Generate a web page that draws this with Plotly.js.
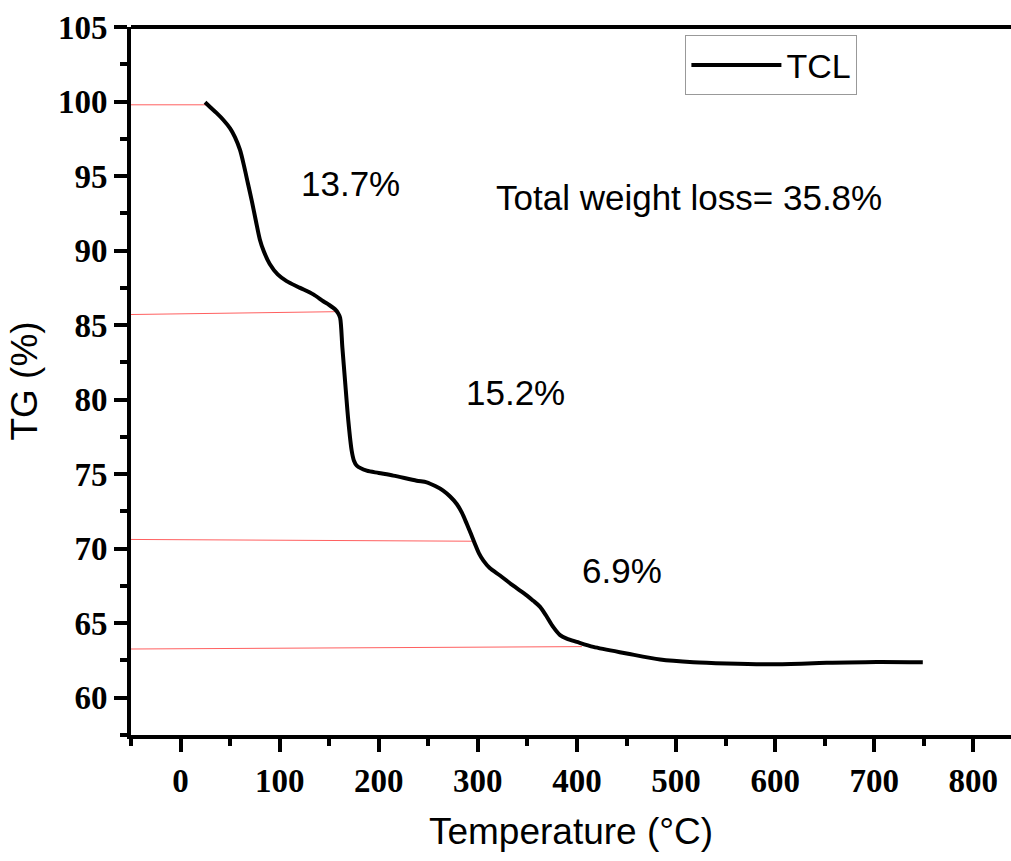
<!DOCTYPE html>
<html>
<head>
<meta charset="utf-8">
<script src="https://cdn.plot.ly/plotly-3.0.1.min.js"></script>
<style>html,body{margin:0;padding:0;background:#fff;}#chart{width:1011px;height:861px;}</style>
</head>
<body>
<div id="chart"></div>
<script>
// TG curve of TCL
const temperature = [24.7, 30, 36.5, 43, 50, 55, 60, 64, 68, 72, 76, 80, 84, 90, 98, 107, 120.6, 134, 144, 150, 155.9, 159, 161, 163.3, 166, 169.3, 172.7, 175, 177.8, 187.9, 200, 214.7, 238.3, 248.4, 257, 265, 272, 278.7, 284, 288.8, 293, 297, 301, 305.6, 312, 322.4, 335, 349.3, 356, 362.8, 369, 376, 383, 389.7, 399.8, 416.6, 450.2, 483.9, 517.5, 551.2, 598.2, 652, 702.5, 749];
const tgTCL = [99.95, 99.62, 99.22, 98.78, 98.2, 97.6, 96.75, 95.7, 94.5, 93.3, 92.0, 90.75, 89.95, 89.1, 88.4, 87.95, 87.5, 87.06, 86.6, 86.35, 86.06, 85.8, 85.5, 83.49, 81.26, 78.58, 76.57, 75.9, 75.57, 75.23, 75.08, 74.9, 74.56, 74.45, 74.2, 73.9, 73.5, 73.0, 72.4, 71.67, 71.0, 70.33, 69.7, 69.2, 68.7, 68.2, 67.55, 66.87, 66.5, 66.1, 65.5, 64.75, 64.2, 63.97, 63.75, 63.41, 62.97, 62.56, 62.38, 62.3, 62.25, 62.34, 62.4, 62.38];

// red guide lines marking the steps
const guide1X = [-50, 29.8], guide1Y = [99.78, 99.78];
const guide2X = [-50, 156],  guide2Y = [85.71, 85.9];
const guide3X = [-50, 295],  guide3Y = [70.62, 70.5];
const guide4X = [-50, 405],  guide4Y = [63.27, 63.43];

const labels = ["13.7%", "Total weight loss= 35.8%", "15.2%", "6.9%"];

const guideStyle = {color: '#ff6060', width: 1};
const traces = [
  {x: guide1X, y: guide1Y, mode: 'lines', line: guideStyle, showlegend: false, hoverinfo: 'skip'},
  {x: guide2X, y: guide2Y, mode: 'lines', line: guideStyle, showlegend: false, hoverinfo: 'skip'},
  {x: guide3X, y: guide3Y, mode: 'lines', line: guideStyle, showlegend: false, hoverinfo: 'skip'},
  {x: guide4X, y: guide4Y, mode: 'lines', line: guideStyle, showlegend: false, hoverinfo: 'skip'},
  {x: temperature, y: tgTCL, mode: 'lines', name: 'TCL', line: {color: '#000', width: 4, shape: 'spline', smoothing: 0.8}}
];

const tickFont = {family: 'Liberation Serif, Times New Roman, serif', size: 33, color: '#000', weight: 'bold'};
const titleFont = {family: 'Liberation Sans, Arial, sans-serif', size: 37, color: '#000'};
const annFont = {family: 'Liberation Sans, Arial, sans-serif', size: 35, color: '#000'};

const layout = {
  width: 1011, height: 861,
  margin: {l: 131, r: 0, t: 27, b: 126},
  paper_bgcolor: '#fff', plot_bgcolor: '#fff',
  showlegend: true,
  legend: {x: 0.63, y: 0.988, xanchor: 'left', yanchor: 'top', bordercolor: '#999', borderwidth: 1,
           font: {family: 'Liberation Sans, Arial, sans-serif', size: 34, color: '#000'}, bgcolor: '#fff', itemwidth: 90},
  xaxis: {
    range: [-50, 838], showgrid: false, zeroline: false,
    showline: true, linecolor: '#000', linewidth: 4,
    ticks: 'outside', ticklen: 13, tickwidth: 4, tickcolor: '#000',
    tick0: 0, dtick: 100, tickfont: tickFont,
    minor: {ticks: 'outside', ticklen: 7, tickwidth: 4, tickcolor: '#000', dtick: 50, tick0: 0, showgrid: false},
    title: {text: 'Temperature (°C)', font: titleFont, standoff: 22}
  },
  yaxis: {
    range: [57.5, 105], showgrid: false, zeroline: false,
    showline: true, linecolor: '#000', linewidth: 4,
    ticks: 'outside', ticklen: 13, tickwidth: 4, tickcolor: '#000',
    tick0: 60, dtick: 5, tickfont: tickFont,
    minor: {ticks: 'outside', ticklen: 7, tickwidth: 4, tickcolor: '#000', dtick: 2.5, tick0: 57.5, showgrid: false},
    title: {text: 'TG (%)', font: titleFont, standoff: 10}
  },
  shapes: [
    {type: 'line', xref: 'paper', yref: 'paper', x0: 0, x1: 1, y0: 1, y1: 1, line: {color: '#000', width: 4}}
  ],
  annotations: [
    {x: 171, y: 94.5, xref: 'x', yref: 'y', text: labels[0], showarrow: false, font: annFont},
    {x: 513, y: 93.55, xref: 'x', yref: 'y', text: labels[1], showarrow: false, font: annFont},
    {x: 337.5, y: 80.45, xref: 'x', yref: 'y', text: labels[2], showarrow: false, font: annFont},
    {x: 445.5, y: 68.55, xref: 'x', yref: 'y', text: labels[3], showarrow: false, font: annFont}
  ]
};

Plotly.newPlot('chart', traces, layout, {displayModeBar: false, staticPlot: true});
</script>
</body>
</html>
